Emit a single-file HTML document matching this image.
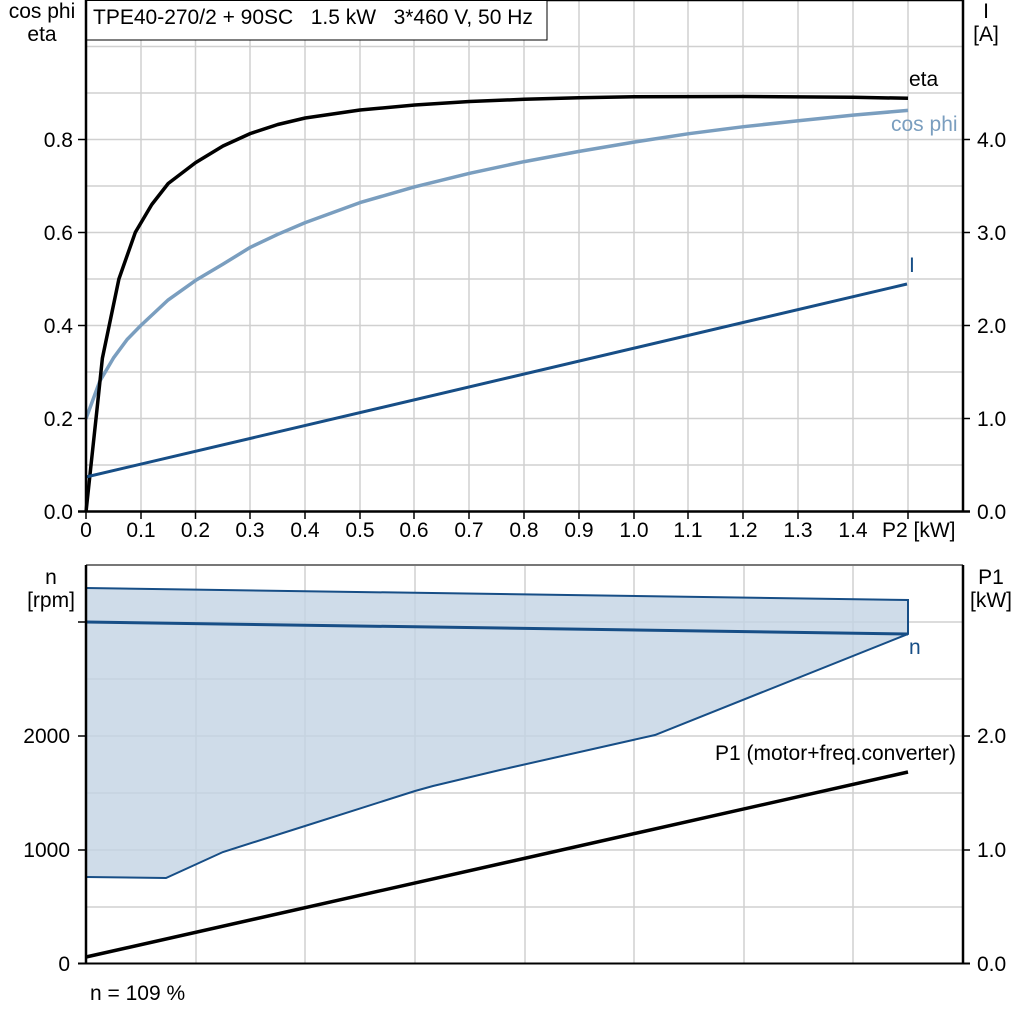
<!DOCTYPE html>
<html><head><meta charset="utf-8"><style>
html,body{margin:0;padding:0;background:#fff;}
svg{display:block;font-family:"Liberation Sans",Arial,sans-serif;}
</style></head><body>
<svg width="1024" height="1024" viewBox="0 0 1024 1024" xmlns="http://www.w3.org/2000/svg">
<rect width="1024" height="1024" fill="#fff"/>
<g stroke="#d0d0d0" stroke-width="1.5">
<line x1="141" y1="0" x2="141" y2="511"/><line x1="195.5" y1="0" x2="195.5" y2="511"/>
<line x1="250" y1="0" x2="250" y2="511"/><line x1="305" y1="0" x2="305" y2="511"/>
<line x1="360" y1="0" x2="360" y2="511"/><line x1="414" y1="0" x2="414" y2="511"/>
<line x1="469" y1="0" x2="469" y2="511"/><line x1="524" y1="0" x2="524" y2="511"/>
<line x1="579" y1="0" x2="579" y2="511"/><line x1="634" y1="0" x2="634" y2="511"/>
<line x1="688" y1="0" x2="688" y2="511"/><line x1="743" y1="0" x2="743" y2="511"/>
<line x1="798" y1="0" x2="798" y2="511"/><line x1="853" y1="0" x2="853" y2="511"/>
<line x1="908" y1="0" x2="908" y2="511"/>
<line x1="86" y1="46.5" x2="963" y2="46.5"/><line x1="86" y1="93" x2="963" y2="93"/>
<line x1="86" y1="139.5" x2="963" y2="139.5"/><line x1="86" y1="186" x2="963" y2="186"/>
<line x1="86" y1="232.5" x2="963" y2="232.5"/><line x1="86" y1="279" x2="963" y2="279"/>
<line x1="86" y1="325.5" x2="963" y2="325.5"/><line x1="86" y1="372" x2="963" y2="372"/>
<line x1="86" y1="418.5" x2="963" y2="418.5"/><line x1="86" y1="465" x2="963" y2="465"/>
</g>
<line x1="86" y1="0.5" x2="963" y2="0.5" stroke="#000" stroke-width="1.5"/>
<rect x="86" y="0.5" width="461" height="39.5" fill="#fff" stroke="#000" stroke-width="1"/>
<text x="93" y="24" font-size="21" xml:space="preserve" style="white-space:pre">TPE40-270/2 + 90SC   1.5 kW   3*460 V, 50 Hz</text>
<polyline fill="none" stroke="#7a9ebf" stroke-width="3.5" stroke-linejoin="round" points="86,418.6 99.7,381.4 113.4,358.1 127.1,339.5 140.8,325.5 168.2,299.9 195.6,280.4 223,264.1 250.4,247.3 277.8,234.3 305.2,222.6 360,202.6 414.8,186.8 469.6,173.3 524.4,161.6 579.2,151.4 634,142.1 688.8,133.7 743.6,126.7 798.4,120.7 853.2,115.1 908,110.4"/>
<polyline fill="none" stroke="#000" stroke-width="3.5" stroke-linejoin="round" points="86,512 91.5,460.5 97,409.3 102.4,358.1 118.9,279 135.3,232.4 151.8,204.5 168.2,183.5 195.6,162.6 223,146 250.4,133.5 277.8,124.5 305.2,118 360,110 414.8,105 469.6,101.5 524.4,99.3 579.2,97.8 634,96.8 743.6,96.5 853.2,97.2 908,98.3"/>
<polyline fill="none" stroke="#174e86" stroke-width="3" points="86,477 907,284"/>
<text x="909" y="86" font-size="21">eta</text>
<text x="891" y="131" font-size="21" fill="#7a9ebf">cos phi</text>
<text x="909" y="272" font-size="21" fill="#174e86">I</text>
<line x1="86" y1="0" x2="86" y2="512" stroke="#000" stroke-width="2.5"/>
<line x1="963" y1="0" x2="963" y2="512" stroke="#000" stroke-width="2.5"/>
<line x1="78" y1="511.5" x2="970" y2="511.5" stroke="#000" stroke-width="2.5"/>
<g stroke="#000" stroke-width="1.5">
<line x1="78" y1="418.5" x2="86" y2="418.5"/><line x1="78" y1="325.5" x2="86" y2="325.5"/>
<line x1="78" y1="232.5" x2="86" y2="232.5"/><line x1="78" y1="139.5" x2="86" y2="139.5"/>
<line x1="963" y1="418.5" x2="970" y2="418.5"/><line x1="963" y1="325.5" x2="970" y2="325.5"/>
<line x1="963" y1="232.5" x2="970" y2="232.5"/><line x1="963" y1="139.5" x2="970" y2="139.5"/>
<line x1="86" y1="511" x2="86" y2="519"/><line x1="141" y1="511" x2="141" y2="519"/>
<line x1="195.5" y1="511" x2="195.5" y2="519"/><line x1="250" y1="511" x2="250" y2="519"/>
<line x1="305" y1="511" x2="305" y2="519"/><line x1="360" y1="511" x2="360" y2="519"/>
<line x1="414" y1="511" x2="414" y2="519"/><line x1="469" y1="511" x2="469" y2="519"/>
<line x1="524" y1="511" x2="524" y2="519"/><line x1="579" y1="511" x2="579" y2="519"/>
<line x1="634" y1="511" x2="634" y2="519"/><line x1="688" y1="511" x2="688" y2="519"/>
<line x1="743" y1="511" x2="743" y2="519"/><line x1="798" y1="511" x2="798" y2="519"/>
<line x1="853" y1="511" x2="853" y2="519"/><line x1="908" y1="511" x2="908" y2="519"/>
</g>
<g font-size="21" text-anchor="end">
<text x="73" y="519">0.0</text><text x="73" y="426">0.2</text><text x="73" y="333">0.4</text>
<text x="73" y="240">0.6</text><text x="73" y="147">0.8</text>
</g>
<g font-size="21">
<text x="977" y="519">0.0</text><text x="977" y="426">1.0</text><text x="977" y="333">2.0</text>
<text x="977" y="240">3.0</text><text x="977" y="147">4.0</text>
</g>
<g font-size="21" text-anchor="middle">
<text x="42" y="18">cos phi</text><text x="42" y="41">eta</text>
<text x="986" y="18">I</text><text x="986" y="41">[A]</text>
<text x="86" y="537">0</text><text x="141" y="537">0.1</text><text x="195.5" y="537">0.2</text>
<text x="250" y="537">0.3</text><text x="305" y="537">0.4</text><text x="360" y="537">0.5</text>
<text x="414" y="537">0.6</text><text x="469" y="537">0.7</text><text x="524" y="537">0.8</text>
<text x="579" y="537">0.9</text><text x="634" y="537">1.0</text><text x="688" y="537">1.1</text>
<text x="743" y="537">1.2</text><text x="798" y="537">1.3</text><text x="853" y="537">1.4</text>
</g>
<text x="882" y="537" font-size="21">P2 [kW]</text>
<g stroke="#d0d0d0" stroke-width="1.5">
<line x1="196" y1="565" x2="196" y2="963"/><line x1="305" y1="565" x2="305" y2="963"/>
<line x1="415" y1="565" x2="415" y2="963"/><line x1="525" y1="565" x2="525" y2="963"/>
<line x1="634" y1="565" x2="634" y2="963"/><line x1="744" y1="565" x2="744" y2="963"/>
<line x1="853" y1="565" x2="853" y2="963"/>
<line x1="86" y1="622" x2="963" y2="622"/><line x1="86" y1="679" x2="963" y2="679"/>
<line x1="86" y1="736" x2="963" y2="736"/><line x1="86" y1="793" x2="963" y2="793"/>
<line x1="86" y1="850" x2="963" y2="850"/><line x1="86" y1="907" x2="963" y2="907"/>
</g>
<line x1="86" y1="565" x2="963" y2="565" stroke="#777" stroke-width="2"/>
<polygon fill="#c3d3e3" fill-opacity="0.8" points="86,588 908,600 908,634 655,735 500,770 433,786 415,791 305,826 223,852 166,878 86,877"/>
<polyline fill="none" stroke="#174e86" stroke-width="2" points="86,588 908,600 908,634 655,735 500,770 433,786 415,791 305,826 223,852 166,878 86,877"/>
<line x1="86" y1="622" x2="908" y2="634" stroke="#174e86" stroke-width="3"/>
<line x1="86" y1="957" x2="908" y2="772" stroke="#000" stroke-width="3.5"/>
<text x="909" y="654" font-size="21" fill="#174e86">n</text>
<text x="715" y="760" font-size="21">P1 (motor+freq.converter)</text>
<line x1="86" y1="565" x2="86" y2="964" stroke="#000" stroke-width="2.5"/>
<line x1="963" y1="565" x2="963" y2="964" stroke="#000" stroke-width="2.5"/>
<line x1="78" y1="963.5" x2="970" y2="963.5" stroke="#000" stroke-width="2"/>
<g stroke="#000" stroke-width="1.5">
<line x1="78" y1="622" x2="86" y2="622"/><line x1="78" y1="736" x2="86" y2="736"/>
<line x1="78" y1="850" x2="86" y2="850"/>
<line x1="963" y1="736" x2="970" y2="736"/><line x1="963" y1="850" x2="970" y2="850"/>
</g>
<g font-size="21" text-anchor="end">
<text x="70" y="743">2000</text><text x="70" y="857">1000</text><text x="70" y="971">0</text>
</g>
<g font-size="21">
<text x="977" y="743">2.0</text><text x="977" y="857">1.0</text><text x="977" y="971">0.0</text>
</g>
<g font-size="21" text-anchor="middle">
<text x="51" y="584">n</text><text x="51" y="607">[rpm]</text>
<text x="991" y="584">P1</text><text x="991" y="607">[kW]</text>
</g>
<text x="90" y="1000" font-size="21">n = 109 %</text>
</svg>
</body></html>
